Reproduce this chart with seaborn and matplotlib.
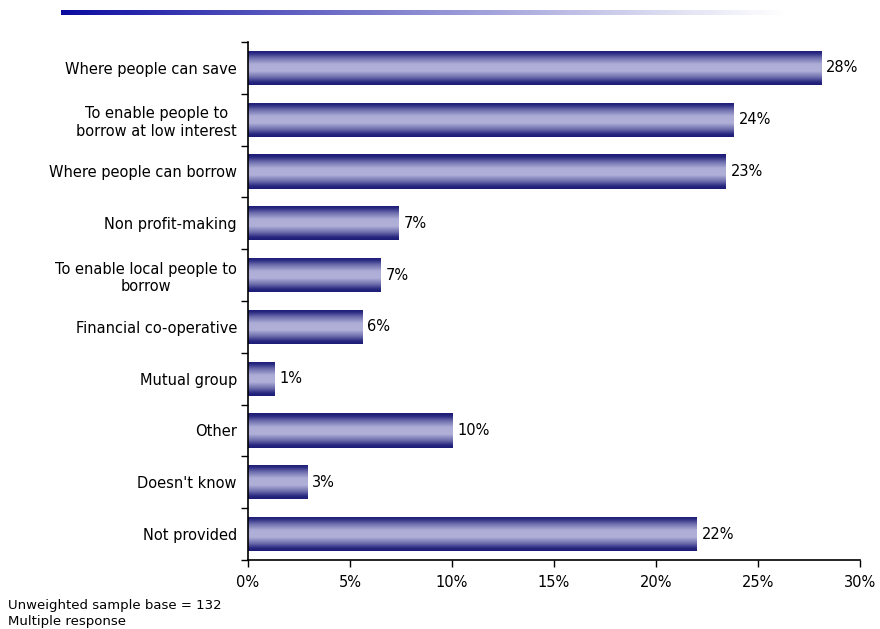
import numpy as np
import pandas as pd
import matplotlib
matplotlib.use("Agg")
import matplotlib.pyplot as plt
from matplotlib.colors import LinearSegmentedColormap
import seaborn as sns

categories = ["Where people can save",
              "To enable people to\nborrow at low interest",
              "Where people can borrow",
              "Non profit-making",
              "To enable local people to\nborrow",
              "Financial co-operative",
              "Mutual group",
              "Other",
              "Doesn't know",
              "Not provided"]
values = [28.1, 23.8, 23.4, 7.4, 6.5, 5.6, 1.3, 10.0, 2.9, 22.0]
value_labels = ["28%", "24%", "23%", "7%", "7%", "6%", "1%", "10%", "3%", "22%"]
x_ticks = [0, 5, 10, 15, 20, 25, 30]
x_tick_labels = ["0%", "5%", "10%", "15%", "20%", "25%", "30%"]
footnotes = ["Unweighted sample base = 132", "Multiple response"]

sns.set_style("white")
plt.rcParams['font.family'] = ['DejaVu Sans']
plt.rcParams['text.color'] = 'black'
plt.rcParams['xtick.color'] = 'black'
plt.rcParams['ytick.color'] = 'black'

FS = 10.5

df = pd.DataFrame({"cat": categories, "val": values})

fig = plt.figure(figsize=(8.8, 6.29), dpi=100)
ax = fig.add_axes([248/880, 1-560/629, (860-248)/880, (560-42)/629])

sns.barplot(data=df, y="cat", x="val", orient="h", ax=ax, width=0.66,
            color="#b0b0d8", edgecolor="none", errorbar=None)

# vertical gradient fill clipped to each bar
cmap = LinearSegmentedColormap.from_list("bar", [
    (0.0, "#1c1c78"), (0.08, "#26267f"), (0.22, "#6c6cac"), (0.40, "#adadd7"),
    (0.60, "#b0b0d8"), (0.78, "#6c6cac"), (0.92, "#26267f"), (1.0, "#1c1c78")])
grad = np.linspace(0, 1, 256).reshape(-1, 1)
for p in ax.patches:
    x0, y0 = p.get_x(), p.get_y()
    w, h = p.get_width(), p.get_height()
    p.set_facecolor("none")
    im = ax.imshow(grad, cmap=cmap, aspect="auto",
                   extent=[x0, x0 + w, y0 + h, y0], origin="upper",
                   interpolation="bilinear", zorder=2)
    im.set_clip_path(p)

for i, (v, lab) in enumerate(zip(values, value_labels)):
    ax.text(v + 0.25, i, lab, va="center", ha="left", fontsize=FS, color="black")

ax.set_xlim(0, 30)
ax.set_ylim(len(categories) - 0.5, -0.5)
ax.set_xticks(x_ticks)
ax.set_xticklabels(x_tick_labels, fontsize=FS)
ax.set_yticks(range(len(categories)))
ax.set_yticklabels(categories, fontsize=FS, multialignment="center")
ax.set_yticks(np.arange(-0.5, len(categories), 1), minor=True)
ax.tick_params(axis="y", which="major", length=0, pad=8)
ax.tick_params(axis="y", which="minor", length=5, width=1, direction="out", left=True)
ax.tick_params(axis="x", which="major", length=5, width=1, direction="out", bottom=True, pad=6)
ax.set_xlabel("")
ax.set_ylabel("")
for s in ["top", "right"]:
    ax.spines[s].set_visible(False)
for s in ["left", "bottom"]:
    ax.spines[s].set_color("black")
    ax.spines[s].set_linewidth(1.2)

# decorative gradient line at top
lax = fig.add_axes([61/880, 1-15/629, (790-61)/880, 5/629])
line_rgba = np.zeros((1, 256, 4))
c0 = np.array([0x0a, 0x0a, 0xa0]) / 255
t = np.linspace(0, 1, 256)
line_rgba[0, :, :3] = c0
line_rgba[0, :, 3] = (1 - t) ** 1.1
lax.imshow(line_rgba, aspect="auto", interpolation="bilinear")
lax.axis("off")

fig.text(8/880, 1-606/629, footnotes[0], fontsize=9.5, va="center", ha="left")
fig.text(8/880, 1-621/629, footnotes[1], fontsize=9.5, va="center", ha="left")

fig.savefig("out.png", dpi=100)
